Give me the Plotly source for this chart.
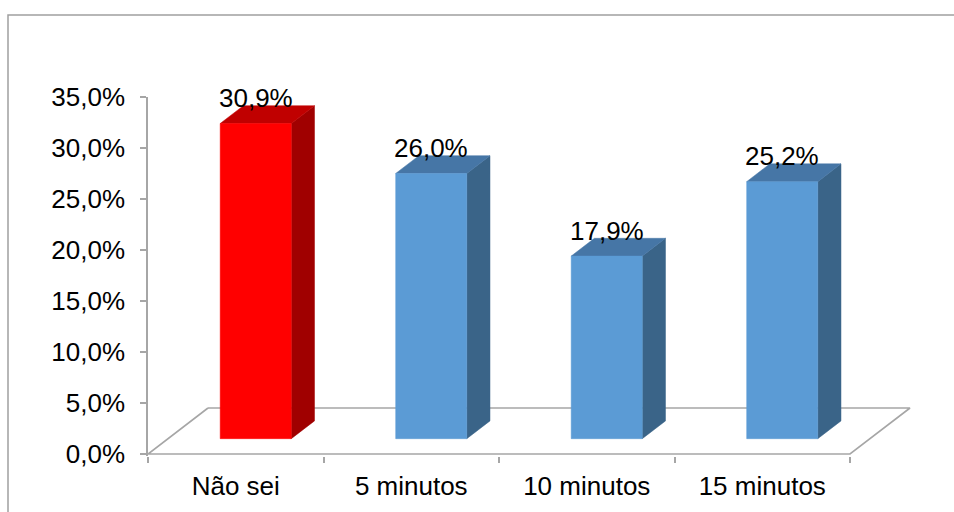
import plotly.graph_objects as go

# Survey answers and their shares (%)
categories = ["Não sei", "5 minutos", "10 minutos", "15 minutos"]
values = [30.9, 26.0, 17.9, 25.2]
y_ticks = [0, 5, 10, 15, 20, 25, 30, 35]

# Face colours: front, top, side
red_faces = ("#FF0000", "#C00000", "#A00000")
blue_faces = ("#5B9BD5", "#4676A6", "#3A6488")
bar_faces = [red_faces, blue_faces, blue_faces, blue_faces]

W, H = 954, 512
M_L, M_R, M_T, M_B = 148, 42, 97, 56
PX_PER_UNIT_X = 175.5
Y_TOP = 35.0
PX_PER_PCT = (454 - M_T) / Y_TOP

plot_w = W - M_L - M_R
plot_h = H - M_T - M_B
x_range = [-0.5, -0.5 + plot_w / PX_PER_UNIT_X]
y_range = [Y_TOP - plot_h / PX_PER_PCT, Y_TOP]

# oblique projection of the depth axis (full floor depth)
DX = 60 / PX_PER_UNIT_X
DY = 46 / PX_PER_PCT
D_FRONT, D_BACK = 0.333, 0.72
BAR_W = 0.405

GRID = "#A6A6A6"
FONT = dict(family="Liberation Sans, Arial, sans-serif", size=26, color="#000000")

fig = go.Figure()

# floor outline
n = len(categories)
x0, x1 = -0.5, n - 0.5
floor_x = [x0 + DX, x0, x1, x1 + DX, x0 + DX]
floor_y = [DY, 0, 0, DY, DY]
fig.add_trace(go.Scatter(x=floor_x, y=floor_y, mode="lines",
                         line=dict(color=GRID, width=1.6),
                         hoverinfo="skip", showlegend=False))


def poly(xs, ys, color):
    fig.add_trace(go.Scatter(x=xs + xs[:1], y=ys + ys[:1], mode="lines",
                             fill="toself", fillcolor=color,
                             line=dict(color=color, width=0.5),
                             hoverinfo="skip", showlegend=False))


annotations = []
for i, (cat, v) in enumerate(zip(categories, values)):
    front, top, side = bar_faces[i]
    fx0 = i - BAR_W / 2 + D_FRONT * DX
    fx1 = i + BAR_W / 2 + D_FRONT * DX
    fy0 = D_FRONT * DY
    fy1 = v + D_FRONT * DY
    ddx = (D_BACK - D_FRONT) * DX
    ddy = (D_BACK - D_FRONT) * DY
    # side face
    poly([fx1, fx1 + ddx, fx1 + ddx, fx1], [fy0, fy0 + ddy, fy1 + ddy, fy1], side)
    # top face
    poly([fx0, fx1, fx1 + ddx, fx0 + ddx], [fy1, fy1, fy1 + ddy, fy1 + ddy], top)
    # front face
    poly([fx0, fx1, fx1, fx0], [fy0, fy0, fy1, fy1], front)
    annotations.append(dict(
        x=i + D_FRONT * DX, y=fy1 + 2.5, xref="x", yref="y",
        text=f"{v:.1f}%".replace(".", ","), showarrow=False,
        font=FONT, xanchor="center", yanchor="middle"))

# outer chart frame (extends past the right and bottom edges)
def px_to_paper_x(px):
    return (px - M_L) / plot_w


def px_to_paper_y(py):
    return (H - M_B - py) / plot_h


shapes = [dict(type="rect", xref="paper", yref="paper",
               x0=px_to_paper_x(8), x1=px_to_paper_x(W + 20),
               y0=px_to_paper_y(H + 20), y1=px_to_paper_y(15),
               line=dict(color="#A0A0A0", width=1.5), fillcolor="rgba(0,0,0,0)")]

fig.update_layout(
    width=W, height=H,
    margin=dict(l=M_L, r=M_R, t=M_T, b=M_B),
    paper_bgcolor="white", plot_bgcolor="white",
    separators=", ",
    font=FONT,
    showlegend=False,
    annotations=annotations,
    shapes=shapes,
    xaxis=dict(
        range=x_range, showgrid=False, zeroline=False, showline=False,
        tickmode="array", tickvals=list(range(n)), ticktext=categories,
        ticks="", tickfont=FONT, ticklabelstandoff=12,
        minor=dict(tickmode="array", tickvals=[k - 0.5 for k in range(n + 1)],
                   ticks="outside", ticklen=6, tickcolor=GRID, tickwidth=1.5),
    ),
    yaxis=dict(
        range=y_range, showgrid=False, zeroline=False,
        showline=True, linecolor=GRID, linewidth=1.5,
        tickmode="array", tickvals=y_ticks,
        ticktext=[f"{t:.1f}%".replace(".", ",") for t in y_ticks],
        ticks="outside", ticklen=6, tickcolor=GRID, tickwidth=1.5,
        tickfont=FONT, ticklabelstandoff=10,
    ),
)

fig.write_html("out.html")
